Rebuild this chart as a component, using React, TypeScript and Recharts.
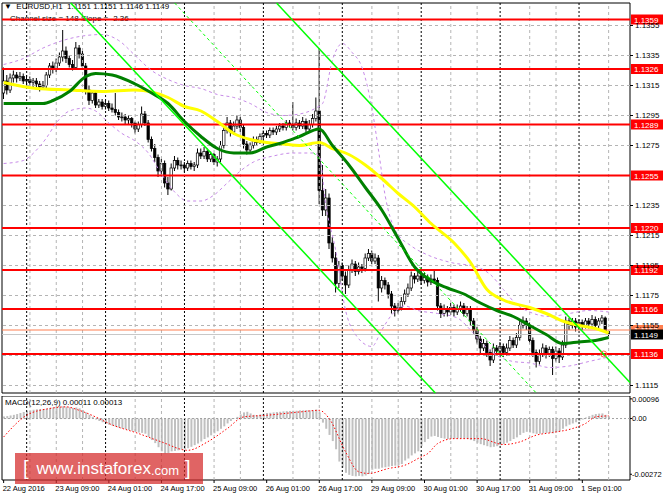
import {
  ComposedChart,
  Bar,
  Line,
  XAxis,
  YAxis,
  ReferenceLine,
  ReferenceArea,
  ReferenceDot,
} from 'recharts';

// EURUSD H1, 22 Aug 17:00 .. 1 Sep 09:00 (one entry per bar)
const opens = [
  1.1310, 1.1318, 1.1312, 1.1320, 1.1322, 1.1320, 1.1321, 1.1318, 1.1319, 1.1317,
  1.1318, 1.1316, 1.1314, 1.1315, 1.1322, 1.1328, 1.1326, 1.1330, 1.1334, 1.1338,
  1.1333, 1.1329, 1.1327, 1.1340, 1.1336, 1.1328, 1.1312, 1.1305, 1.1310, 1.1302,
  1.1304, 1.1301, 1.1303, 1.1300, 1.1299, 1.1297, 1.1294, 1.1294, 1.1292, 1.1293,
  1.1290, 1.1286, 1.1289, 1.1296, 1.1290, 1.1279, 1.1273, 1.1267, 1.1258, 1.1263,
  1.1250, 1.1246, 1.1260, 1.1265, 1.1262, 1.1262, 1.1260, 1.1263, 1.1261, 1.1262,
  1.1270, 1.1268, 1.1271, 1.1266, 1.1269, 1.1264, 1.1266, 1.1275, 1.1285, 1.1290,
  1.1284, 1.1288, 1.1292, 1.1287, 1.1276, 1.1272, 1.1275, 1.1279, 1.1277, 1.1281,
  1.1283, 1.1282, 1.1285, 1.1284, 1.1286, 1.1288, 1.1287, 1.1290, 1.1289, 1.1287,
  1.1290, 1.1288, 1.1291, 1.1286, 1.1289, 1.1293, 1.1298, 1.1245, 1.1232, 1.1240,
  1.1210, 1.1200, 1.1183, 1.1195, 1.1188, 1.1182, 1.1192, 1.1196, 1.1191, 1.1194,
  1.1193, 1.1200, 1.1203, 1.1198, 1.1200, 1.1180, 1.1185, 1.1182, 1.1176, 1.1168,
  1.1165, 1.1167, 1.1171, 1.1176, 1.1180, 1.1188, 1.1186, 1.1188, 1.1185, 1.1187,
  1.1184, 1.1186, 1.1185, 1.1168, 1.1163, 1.1166, 1.1164, 1.1167, 1.1164, 1.1166,
  1.1168, 1.1163, 1.1166, 1.1158, 1.1152, 1.1146, 1.1140, 1.1143, 1.1137, 1.1132,
  1.1140, 1.1138, 1.1141, 1.1137, 1.1140, 1.1145, 1.1142, 1.1147, 1.1155, 1.1158,
  1.1155, 1.1145, 1.1137, 1.1131, 1.1136, 1.1140, 1.1136, 1.1139, 1.1133, 1.1138,
  1.1134, 1.1142, 1.1158, 1.1155, 1.1158, 1.1154, 1.1157, 1.1155, 1.1158, 1.1156,
  1.1159, 1.1155, 1.1158, 1.1160, 1.1151,
];
const highs = [
  1.1327, 1.1322, 1.1323, 1.1325, 1.1324, 1.1324, 1.1323, 1.1322, 1.1321, 1.1320,
  1.1320, 1.1318, 1.1318, 1.1324, 1.1330, 1.1331, 1.1333, 1.1337, 1.1352, 1.1341,
  1.1335, 1.1332, 1.1344, 1.1342, 1.1338, 1.1330, 1.1315, 1.1312, 1.1311, 1.1306,
  1.1306, 1.1305, 1.1305, 1.1303, 1.1310, 1.1299, 1.1297, 1.1296, 1.1295, 1.1294,
  1.1291, 1.1291, 1.1301, 1.1298, 1.1292, 1.1281, 1.1276, 1.1269, 1.1266, 1.1265,
  1.1254, 1.1263, 1.1268, 1.1267, 1.1265, 1.1264, 1.1265, 1.1265, 1.1264, 1.1273,
  1.1273, 1.1274, 1.1273, 1.1271, 1.1270, 1.1268, 1.1278, 1.1288, 1.1294, 1.1292,
  1.1291, 1.1295, 1.1294, 1.1289, 1.1278, 1.1277, 1.1281, 1.1281, 1.1283, 1.1285,
  1.1285, 1.1287, 1.1287, 1.1288, 1.1290, 1.1290, 1.1292, 1.1292, 1.1304, 1.1293,
  1.1292, 1.1294, 1.1293, 1.1292, 1.1296, 1.1307, 1.1340, 1.1262, 1.1246, 1.1243,
  1.1214, 1.1204, 1.1198, 1.1197, 1.1191, 1.1195, 1.1199, 1.1198, 1.1197, 1.1196,
  1.1203, 1.1206, 1.1205, 1.1203, 1.1202, 1.1188, 1.1187, 1.1184, 1.1178, 1.1170,
  1.1170, 1.1174, 1.1179, 1.1183, 1.1191, 1.1190, 1.1191, 1.1190, 1.1190, 1.1189,
  1.1189, 1.1192, 1.1187, 1.1170, 1.1169, 1.1168, 1.1170, 1.1169, 1.1169, 1.1171,
  1.1170, 1.1168, 1.1168, 1.1160, 1.1154, 1.1148, 1.1146, 1.1145, 1.1139, 1.1143,
  1.1142, 1.1144, 1.1143, 1.1143, 1.1148, 1.1147, 1.1150, 1.1158, 1.1161, 1.1160,
  1.1157, 1.1147, 1.1139, 1.1139, 1.1143, 1.1142, 1.1141, 1.1141, 1.1141, 1.1140,
  1.1145, 1.1161, 1.1160, 1.1160, 1.1160, 1.1159, 1.1159, 1.1160, 1.1160, 1.1162,
  1.1161, 1.1160, 1.1162, 1.1161, 1.1151,
];
const lows = [
  1.1306, 1.1309, 1.1310, 1.1317, 1.1317, 1.1318, 1.1316, 1.1315, 1.1315, 1.1314,
  1.1313, 1.1311, 1.1312, 1.1313, 1.1320, 1.1323, 1.1324, 1.1328, 1.1331, 1.1330,
  1.1327, 1.1325, 1.1326, 1.1333, 1.1326, 1.1309, 1.1302, 1.1303, 1.1300, 1.1300,
  1.1299, 1.1299, 1.1298, 1.1297, 1.1295, 1.1292, 1.1291, 1.1289, 1.1289, 1.1287,
  1.1283, 1.1284, 1.1287, 1.1288, 1.1277, 1.1271, 1.1264, 1.1254, 1.1255, 1.1247,
  1.1242, 1.1245, 1.1258, 1.1259, 1.1259, 1.1257, 1.1258, 1.1259, 1.1258, 1.1260,
  1.1266, 1.1266, 1.1264, 1.1264, 1.1262, 1.1261, 1.1264, 1.1273, 1.1283, 1.1281,
  1.1282, 1.1286, 1.1284, 1.1273, 1.1269, 1.1270, 1.1273, 1.1275, 1.1276, 1.1279,
  1.1280, 1.1280, 1.1282, 1.1282, 1.1284, 1.1285, 1.1285, 1.1287, 1.1285, 1.1285,
  1.1286, 1.1286, 1.1284, 1.1284, 1.1287, 1.1291, 1.1236, 1.1228, 1.1228, 1.1206,
  1.1197, 1.1177, 1.1180, 1.1185, 1.1176, 1.1180, 1.1190, 1.1188, 1.1189, 1.1190,
  1.1191, 1.1198, 1.1196, 1.1196, 1.1171, 1.1177, 1.1179, 1.1173, 1.1163, 1.1161,
  1.1163, 1.1165, 1.1169, 1.1174, 1.1178, 1.1183, 1.1184, 1.1182, 1.1183, 1.1181,
  1.1182, 1.1183, 1.1165, 1.1160, 1.1161, 1.1161, 1.1162, 1.1161, 1.1162, 1.1164,
  1.1161, 1.1161, 1.1155, 1.1149, 1.1143, 1.1136, 1.1138, 1.1134, 1.1128, 1.1130,
  1.1135, 1.1136, 1.1134, 1.1135, 1.1138, 1.1140, 1.1140, 1.1145, 1.1153, 1.1152,
  1.1143, 1.1134, 1.1127, 1.1129, 1.1134, 1.1133, 1.1134, 1.1122, 1.1131, 1.1130,
  1.1132, 1.1140, 1.1152, 1.1153, 1.1151, 1.1152, 1.1152, 1.1153, 1.1153, 1.1154,
  1.1152, 1.1153, 1.1156, 1.1150, 1.1146,
];
const closes = [
  1.1318, 1.1312, 1.1320, 1.1322, 1.1320, 1.1321, 1.1318, 1.1319, 1.1317, 1.1318,
  1.1316, 1.1314, 1.1315, 1.1322, 1.1328, 1.1326, 1.1330, 1.1334, 1.1338, 1.1333,
  1.1329, 1.1327, 1.1340, 1.1336, 1.1328, 1.1312, 1.1305, 1.1310, 1.1302, 1.1304,
  1.1301, 1.1303, 1.1300, 1.1299, 1.1297, 1.1294, 1.1294, 1.1292, 1.1293, 1.1290,
  1.1286, 1.1289, 1.1296, 1.1290, 1.1279, 1.1273, 1.1267, 1.1258, 1.1263, 1.1250,
  1.1246, 1.1260, 1.1265, 1.1262, 1.1262, 1.1260, 1.1263, 1.1261, 1.1262, 1.1270,
  1.1268, 1.1271, 1.1266, 1.1269, 1.1264, 1.1266, 1.1275, 1.1285, 1.1290, 1.1284,
  1.1288, 1.1292, 1.1287, 1.1276, 1.1272, 1.1275, 1.1279, 1.1277, 1.1281, 1.1283,
  1.1282, 1.1285, 1.1284, 1.1286, 1.1288, 1.1287, 1.1290, 1.1289, 1.1287, 1.1290,
  1.1288, 1.1291, 1.1286, 1.1289, 1.1293, 1.1298, 1.1245, 1.1232, 1.1240, 1.1210,
  1.1200, 1.1183, 1.1195, 1.1188, 1.1182, 1.1192, 1.1196, 1.1191, 1.1194, 1.1193,
  1.1200, 1.1203, 1.1198, 1.1200, 1.1180, 1.1185, 1.1182, 1.1176, 1.1168, 1.1165,
  1.1167, 1.1171, 1.1176, 1.1180, 1.1188, 1.1186, 1.1188, 1.1185, 1.1187, 1.1184,
  1.1186, 1.1185, 1.1168, 1.1163, 1.1166, 1.1164, 1.1167, 1.1164, 1.1166, 1.1168,
  1.1163, 1.1166, 1.1158, 1.1152, 1.1146, 1.1140, 1.1143, 1.1137, 1.1132, 1.1140,
  1.1138, 1.1141, 1.1137, 1.1140, 1.1145, 1.1142, 1.1147, 1.1155, 1.1158, 1.1155,
  1.1145, 1.1137, 1.1131, 1.1136, 1.1140, 1.1136, 1.1139, 1.1133, 1.1138, 1.1134,
  1.1142, 1.1158, 1.1155, 1.1158, 1.1154, 1.1157, 1.1155, 1.1158, 1.1156, 1.1159,
  1.1155, 1.1158, 1.1160, 1.1151, 1.1149,
];

// moving averages and bands, read at sample bars
const slowMaIdx = [0, 10, 20, 30, 40, 50, 55, 60, 65, 70, 75, 80, 85, 90, 96, 100, 105, 110, 115, 120, 125, 130, 137, 142, 147, 152, 160, 165, 170, 175, 180, 184];
const slowMa = [1.1317, 1.1313, 1.1312, 1.1311, 1.1312, 1.1307, 1.1301, 1.1298, 1.1291, 1.1283, 1.1279, 1.1277, 1.1276, 1.1275, 1.1277, 1.1273, 1.1269, 1.1262, 1.1253, 1.1243, 1.1234, 1.1223, 1.1210, 1.1197, 1.1179, 1.1172, 1.1167, 1.1163, 1.1158, 1.1155, 1.1153, 1.1150];

const fastMaIdx = [0, 12, 15, 20, 25, 28, 33, 40, 45, 50, 55, 60, 65, 70, 75, 80, 85, 90, 96, 100, 105, 110, 115, 120, 125, 130, 135, 140, 145, 150, 155, 160, 165, 170, 175, 180, 184];
const fastMa = [1.1303, 1.1303, 1.1305, 1.1311, 1.1321, 1.1323, 1.1322, 1.1316, 1.1310, 1.1303, 1.1291, 1.1281, 1.1273, 1.1270, 1.1270, 1.1274, 1.1277, 1.1281, 1.1286, 1.1275, 1.1262, 1.1247, 1.1232, 1.1213, 1.1194, 1.1185, 1.1180, 1.1176, 1.1170, 1.1165, 1.1161, 1.1155, 1.1149, 1.1143, 1.1144, 1.1145, 1.1147];

const bandUpIdx = [0, 6, 12, 18, 24, 30, 35, 40, 45, 50, 55, 60, 65, 70, 75, 80, 85, 90, 95, 97, 100, 103, 106, 109, 112, 114, 116, 119, 124, 129, 136, 144, 148, 152, 156, 160, 166, 172, 178, 184];
const bandUp = [1.1329, 1.1333, 1.1340, 1.1345, 1.1348, 1.1349, 1.1345, 1.1335, 1.1325, 1.1319, 1.1315, 1.1313, 1.1309, 1.1307, 1.1303, 1.1297, 1.1295, 1.1296, 1.1300, 1.1303, 1.1332, 1.1343, 1.1337, 1.1327, 1.1300, 1.1272, 1.1242, 1.1219, 1.1208, 1.1202, 1.1197, 1.1194, 1.1189, 1.1179, 1.1169, 1.1164, 1.1161, 1.1163, 1.1165, 1.1164];

const bandDnIdx = [0, 6, 10, 13, 16, 20, 25, 28, 32, 36, 40, 44, 48, 52, 56, 60, 64, 68, 72, 76, 82, 88, 94, 96, 98, 101, 104, 107, 112, 115, 118, 122, 126, 132, 138, 142, 146, 150, 155, 160, 166, 172, 178, 184];
const bandDn = [1.1263, 1.1265, 1.1272, 1.1280, 1.1290, 1.1298, 1.1300, 1.1298, 1.1290, 1.1283, 1.1278, 1.1270, 1.1256, 1.1244, 1.1238, 1.1238, 1.1242, 1.1250, 1.1258, 1.1264, 1.1268, 1.1270, 1.1270, 1.1268, 1.1235, 1.1205, 1.1165, 1.1149, 1.1141, 1.1152, 1.1162, 1.1168, 1.1165, 1.1163, 1.1160, 1.1152, 1.1142, 1.1135, 1.1131, 1.1130, 1.1127, 1.1128, 1.1131, 1.1134];

// regression channel: where each line enters and leaves the window (bar, price)
const channelUpper = [{ x: 83, y: 1.137 }, { x: 190.5, y: 1.1117 }];
const channelMid = [{ x: 52, y: 1.137 }, { x: 162, y: 1.111 }];
const channelLower = [{ x: 20.4, y: 1.137 }, { x: 131.3, y: 1.111 }];

const levels = [1.1359, 1.1326, 1.1289, 1.1255, 1.122, 1.1192, 1.1166, 1.1136];
const askPrice = 1.1152;
const bidPrice = 1.1149;
const alertMark = { x: 182.5, y: 1.1136 };

const priceTicks = [1.1115, 1.1155, 1.1175, 1.1195, 1.1215, 1.1235, 1.1275, 1.1295, 1.1315, 1.1335, 1.1355];
const gridPrices = [1.1115, 1.1135, 1.1155, 1.1175, 1.1195, 1.1215, 1.1235, 1.1255, 1.1275, 1.1295, 1.1315, 1.1335, 1.1355];

const daySeparators = [7, 31, 55, 79, 103, 127, 151, 175];
const gridBars = [8, 16, 24, 40, 48, 64, 72, 88, 96, 112, 120, 136, 144, 160, 168, 184];
const timeTickIdx = [0, 16, 32, 48, 64, 80, 96, 112, 128, 144, 160, 176];
const timeLabels = ['22 Aug 2016', '23 Aug 09:00', '24 Aug 01:00', '24 Aug 17:00', '25 Aug 09:00', '26 Aug 01:00', '26 Aug 17:00', '29 Aug 09:00', '30 Aug 01:00', '30 Aug 17:00', '31 Aug 09:00', '1 Sep 01:00'];

// MACD(12,26,9) in units of 0.00001
const macdHist = [
  10, 12, 15, 18, 22, 27, 32, 36, 40, 43,
  45, 46, 46, 48, 52, 54, 56, 58, 60, 58,
  55, 52, 54, 50, 42, 30, 18, 8, -5, -12,
  -18, -24, -30, -35, -40, -44, -48, -52, -56, -60,
  -64, -68, -70, -74, -90, -105, -120, -140, -160, -170,
  -168, -160, -158, -155, -152, -150, -145, -138, -130, -122,
  -112, -100, -92, -82, -72, -62, -50, -38, -24, -12,
  -2, 8, 20, 30, 33, 25, 18, 16, 20, 24,
  27, 28, 30, 32, 33, 35, 36, 37, 38, 38,
  40, 40, 41, 40, 40, 44, 30, -20, -50, -80,
  -110, -150, -210, -240, -265, -275, -280, -282, -280, -282,
  -278, -270, -250, -245, -245, -240, -238, -235, -232, -230,
  -228, -222, -205, -195, -180, -170, -160, -135, -115, -100,
  -88, -85, -90, -95, -98, -100, -100, -98, -97, -97,
  -98, -100, -105, -110, -118, -125, -130, -135, -140, -138,
  -135, -130, -125, -118, -110, -100, -92, -80, -70, -65,
  -68, -72, -75, -74, -72, -70, -70, -72, -68, -62,
  -50, -38, -30, -24, -18, -12, -5, 5, 12, 18,
  22, 24, 25, 18, 11,
];
const signalIdx = [0, 7, 14, 19, 23, 29, 32, 41, 48, 56, 62, 68, 73, 80, 90, 96, 99, 104, 108, 111, 117, 122, 127, 129, 132, 137, 145, 152, 157, 162, 167, 173, 177, 180, 184];
const signal = [-90, 16, 49, 57, 40, 0, -24, -73, -114, -155, -114, -49, 8, 16, 32, 40, 0, -163, -260, -268, -244, -228, -187, -171, -122, -98, -98, -127, -114, -81, -68, -49, -24, 8, 13];
const macdTicks = [96, 0, -272];

const X_DOMAIN: [number, number] = [-0.5, 190.5];
const P_DOMAIN: [number, number] = [1.111, 1.137];
const M_DOMAIN: [number, number] = [-300, 110];
const FONT = '"Liberation Sans", Arial, sans-serif';

const putAt = (rows: any[], idx: number[], vals: number[], key: string) => {
  idx.forEach((b, k) => {
    rows[b][key] = vals[k];
  });
};

const priceRows: any[] = closes.map((c, i) => ({
  i,
  range: [lows[i], highs[i]],
  o: opens[i],
  h: highs[i],
  l: lows[i],
  c,
}));
putAt(priceRows, slowMaIdx, slowMa, 'slow');
putAt(priceRows, fastMaIdx, fastMa, 'fast');
putAt(priceRows, bandUpIdx, bandUp, 'bbU');
putAt(priceRows, bandDnIdx, bandDn, 'bbL');

const macdRows: any[] = macdHist.map((m, i) => ({ i, m }));
putAt(macdRows, signalIdx, signal, 'sig');

const Candle = (p: any) => {
  const { x, y, width, height, payload } = p;
  if (!payload || payload.h == null) return null;
  const cx = x + width / 2;
  const top = Math.min(y, y + height);
  const bot = Math.max(y, y + height);
  const span = payload.h - payload.l || 1;
  const py = (v: number) => top + ((payload.h - v) / span) * (bot - top);
  const yo = py(payload.o);
  const yc = py(payload.c);
  const up = payload.c >= payload.o;
  const bt = Math.min(yo, yc);
  const bh = Math.max(Math.abs(yc - yo), 0.8);
  return (
    <g>
      <line x1={cx} x2={cx} y1={top} y2={bot} stroke="#000" strokeWidth={1} />
      <rect x={cx - 1.2} y={bt} width={2.4} height={bh} fill={up ? '#fff' : '#000'} stroke="#000" strokeWidth={0.7} />
    </g>
  );
};

const tagLabel = (value: number, bg: string) => (props: any) => {
  const vb = props.viewBox;
  if (!vb) return null;
  const x = vb.x + vb.width + 1;
  return (
    <g>
      <rect x={x} y={vb.y - 5} width={32} height={10} fill={bg} />
      <text x={x + 3} y={vb.y + 3} fontSize={8} fill="#fff" fontFamily={FONT}>
        {value.toFixed(4)}
      </text>
    </g>
  );
};

const TimeTick = (props: any) => {
  const { x, y, payload } = props;
  const k = timeTickIdx.indexOf(payload.value);
  return (
    <text x={x - 1} y={y + 6} fontSize={7.5} fill="#000" fontFamily={FONT} textAnchor="start">
      {timeLabels[k]}
    </text>
  );
};

const verticalGrid = (prefix: string, yId: string) => [
  ...gridBars.map((b) => (
    <ReferenceLine key={`${prefix}g${b}`} yAxisId={yId} x={b} stroke="#b4b4b4" strokeDasharray="3 3" />
  )),
  ...daySeparators.map((b) => (
    <ReferenceLine key={`${prefix}d${b}`} yAxisId={yId} x={b} stroke="#000" strokeDasharray="2 2" />
  )),
];

const App = () => {
  return (
    <div
      style={{
        position: 'absolute',
        left: 0,
        top: 0,
        width: 664,
        height: 498,
        background: '#fff',
        overflow: 'hidden',
        fontFamily: FONT,
      }}
    >
      <div style={{ position: 'absolute', left: 4, top: 2, fontSize: 8, color: '#000', whiteSpace: 'pre' }}>
        {'\u25BC  EURUSD,H1  1.1151 1.1151 1.1146 1.1149'}
      </div>
      <div style={{ position: 'absolute', left: 10, top: 14, fontSize: 8, color: '#000', whiteSpace: 'pre' }}>
        {'Channel size = 148 Slope = -2.36'}
      </div>
      <div style={{ position: 'absolute', left: 5, top: 398, fontSize: 8, color: '#000', whiteSpace: 'pre' }}>
        {'MACD(12,26,9) 0.00011 0.00013'}
      </div>

      <div style={{ position: 'absolute', left: 0, top: 0 }}>
        <ComposedChart width={664} height={396} data={priceRows} margin={{ top: 3, right: 0, bottom: 3, left: 2 }}>
          <XAxis dataKey="i" type="number" domain={X_DOMAIN} allowDataOverflow hide />
          <YAxis
            yAxisId="p"
            orientation="right"
            width={34}
            domain={P_DOMAIN}
            allowDataOverflow
            ticks={priceTicks}
            interval={0}
            tickFormatter={(v: number) => v.toFixed(4)}
            tick={{ fill: '#000', fontSize: 8, fontFamily: FONT }}
            tickSize={3}
            tickMargin={2}
            tickLine={{ stroke: '#000' }}
            axisLine={false}
          />
          {gridPrices.map((p) => (
            <ReferenceLine key={`h${p}`} yAxisId="p" y={p} stroke="#b4b4b4" strokeDasharray="3 3" />
          ))}
          {verticalGrid('p', 'p')}
          <ReferenceLine yAxisId="p" y={askPrice} stroke="#ff7f50" strokeWidth={1} label={tagLabel(askPrice, '#ff7f50')} />
          <ReferenceLine yAxisId="p" y={bidPrice} stroke="#c8c8c8" strokeWidth={1} />
          {levels.map((lv) => (
            <ReferenceLine key={`lv${lv}`} yAxisId="p" y={lv} stroke="#ff0000" strokeWidth={2} label={tagLabel(lv, '#ff0000')} />
          ))}
          <ReferenceLine yAxisId="p" y={bidPrice} stroke="none" label={tagLabel(bidPrice, '#000000')} />
          <Bar yAxisId="p" dataKey="range" barSize={3} shape={Candle} isAnimationActive={false} />
          <Line yAxisId="p" dataKey="bbU" stroke="#c78be8" strokeWidth={1} strokeDasharray="3 3" dot={false} connectNulls type="monotone" isAnimationActive={false} />
          <Line yAxisId="p" dataKey="bbL" stroke="#c78be8" strokeWidth={1} strokeDasharray="3 3" dot={false} connectNulls type="monotone" isAnimationActive={false} />
          <Line yAxisId="p" dataKey="slow" stroke="#ffff00" strokeWidth={3} dot={false} connectNulls type="monotone" isAnimationActive={false} />
          <Line yAxisId="p" dataKey="fast" stroke="#008000" strokeWidth={3} dot={false} connectNulls type="monotone" isAnimationActive={false} />
          <ReferenceLine yAxisId="p" segment={channelUpper} stroke="#00ff00" strokeWidth={1.5} />
          <ReferenceLine yAxisId="p" segment={channelMid} stroke="#00ff00" strokeWidth={1} strokeDasharray="3 3" />
          <ReferenceLine yAxisId="p" segment={channelLower} stroke="#00ff00" strokeWidth={1.5} />
          <ReferenceDot yAxisId="p" x={alertMark.x} y={alertMark.y} r={3} fill="none" stroke="#ff6040" strokeWidth={1} />
          <ReferenceArea yAxisId="p" x1={X_DOMAIN[0]} x2={X_DOMAIN[1]} y1={P_DOMAIN[0]} y2={P_DOMAIN[1]} fill="none" stroke="#000" strokeWidth={1} />
        </ComposedChart>
      </div>

      <div style={{ position: 'absolute', left: 0, top: 396 }}>
        <ComposedChart width={664} height={102} data={macdRows} margin={{ top: 0, right: 0, bottom: 0, left: 2 }}>
          <XAxis
            dataKey="i"
            type="number"
            domain={X_DOMAIN}
            allowDataOverflow
            ticks={timeTickIdx}
            interval={0}
            height={18}
            tick={<TimeTick />}
            tickSize={3}
            tickLine={{ stroke: '#000' }}
            axisLine={false}
          />
          <YAxis
            yAxisId="m"
            orientation="right"
            width={34}
            domain={M_DOMAIN}
            allowDataOverflow
            ticks={macdTicks}
            interval={0}
            tickFormatter={(v: number) => (v === 0 ? '0.00' : (v / 100000).toFixed(5))}
            tick={{ fill: '#000', fontSize: 7.5, fontFamily: FONT }}
            tickSize={2}
            tickMargin={0}
            tickLine={{ stroke: '#000' }}
            axisLine={false}
          />
          {verticalGrid('m', 'm')}
          <ReferenceLine yAxisId="m" y={0} stroke="#a0a0a0" strokeDasharray="2 2" />
          <Bar yAxisId="m" dataKey="m" fill="#c0c0c0" barSize={2} isAnimationActive={false} />
          <Line yAxisId="m" dataKey="sig" stroke="#ff0000" strokeWidth={1} strokeDasharray="1.5 2" dot={false} connectNulls type="monotone" isAnimationActive={false} />
          <ReferenceArea yAxisId="m" x1={X_DOMAIN[0]} x2={X_DOMAIN[1]} y1={M_DOMAIN[0]} y2={M_DOMAIN[1]} fill="none" stroke="#000" strokeWidth={1} />
        </ComposedChart>
      </div>

      <div
        style={{
          position: 'absolute',
          left: 15,
          top: 453,
          width: 188,
          height: 31,
          background: 'rgba(212, 40, 40, 0.72)',
          color: '#fff',
          display: 'flex',
          alignItems: 'center',
          whiteSpace: 'pre',
        }}
      >
        <span style={{ fontSize: 20, marginLeft: 8, fontWeight: 300 }}>[</span>
        <span style={{ fontSize: 17, marginLeft: 8 }}>www.instaforex</span>
        <span style={{ fontSize: 13, marginTop: 3 }}>.com</span>
        <span style={{ fontSize: 20, marginLeft: 6, fontWeight: 300 }}>]</span>
      </div>
    </div>
  );
};

export default App;
